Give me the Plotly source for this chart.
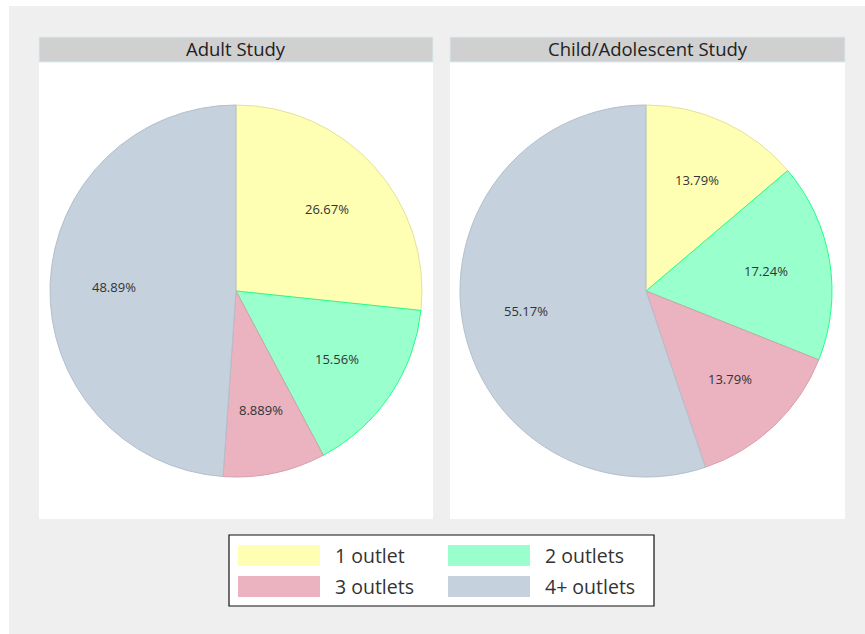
import math
import plotly.graph_objects as go

# Share of participants by number of outlets, per study
categories = ["1 outlet", "2 outlets", "3 outlets", "4+ outlets"]
adult_counts = [12, 7, 4, 22]
child_counts = [4, 5, 4, 16]
panel_titles = ["Adult Study", "Child/Adolescent Study"]

fill_colors = ["#FFFFB3", "#99FFCC", "#EBB2C0", "#C5D1DD"]
edge_colors = ["#E2E29A", "#22FF88", "#D7A0AE", "#B3C0CD"]

W, H = 865, 634
FONT = "Open Sans"


def px(x):
    return x / W


def py(y):
    return 1 - y / H


fig = go.Figure()

shapes = []
annotations = []

# Outer backdrop
shapes.append(dict(type="rect", xref="paper", yref="paper",
                   x0=px(9), x1=px(865), y0=py(634), y1=py(6),
                   fillcolor="#EFEFEF", line=dict(width=0), layer="below"))

panels = [
    dict(x0=39, x1=433, cx=236),
    dict(x0=450, x1=845, cx=646),
]
cy, R = 291, 186

for panel, title, counts in zip(panels, panel_titles, [adult_counts, child_counts]):
    # white plotting region
    shapes.append(dict(type="rect", xref="paper", yref="paper",
                       x0=px(panel["x0"]), x1=px(panel["x1"]),
                       y0=py(519), y1=py(62),
                       fillcolor="white", line=dict(width=0), layer="below"))
    # title strip
    shapes.append(dict(type="rect", xref="paper", yref="paper",
                       x0=px(panel["x0"]), x1=px(panel["x1"]),
                       y0=py(62), y1=py(37),
                       fillcolor="#D0D0D0", line=dict(color="#DCEAF2", width=1),
                       layer="below"))
    annotations.append(dict(xref="paper", yref="paper",
                            x=px((panel["x0"] + panel["x1"]) / 2), y=py(48.5),
                            text=title, showarrow=False,
                            xanchor="center", yanchor="middle",
                            font=dict(family=FONT, size=18.5, color="#222")))

    cx = panel["cx"]
    fig.add_trace(go.Pie(
        labels=categories, values=counts, sort=False,
        direction="clockwise", rotation=0,
        marker=dict(colors=fill_colors, line=dict(color=edge_colors, width=1)),
        textinfo="none", hoverinfo="skip", showlegend=False,
        domain=dict(x=[px(cx - R), px(cx + R)], y=[py(cy + R), py(cy - R)]),
    ))

    # slice percentage labels placed along each slice's mid-angle
    total = sum(counts)
    cum = 0.0
    for c in counts:
        frac = c / total
        mid = (cum + frac / 2) * 2 * math.pi
        cum += frac
        r = 0.655 * R
        lx = cx + r * math.sin(mid)
        ly = cy - r * math.cos(mid)
        pct = 100 * frac
        annotations.append(dict(xref="paper", yref="paper", x=px(lx), y=py(ly),
                                text=f"{pct:.4g}%", showarrow=False,
                                xanchor="center", yanchor="middle",
                                font=dict(family=FONT, size=13, color="#333")))

# Legend box
shapes.append(dict(type="rect", xref="paper", yref="paper",
                   x0=px(229), x1=px(654), y0=py(606), y1=py(535),
                   fillcolor="white", line=dict(color="#111", width=1.2),
                   layer="below"))
legend_slots = [(238, 545), (448, 545), (238, 576), (448, 576)]
for (sx, sy), name, col in zip(legend_slots, categories, fill_colors):
    shapes.append(dict(type="rect", xref="paper", yref="paper",
                       x0=px(sx), x1=px(sx + 82), y0=py(sy + 21), y1=py(sy),
                       fillcolor=col, line=dict(width=0)))
    annotations.append(dict(xref="paper", yref="paper",
                            x=px(sx + 95), y=py(sy + 10.5),
                            text=name, showarrow=False,
                            xanchor="left", yanchor="middle",
                            font=dict(family=FONT, size=19.5, color="#333")))

fig.update_layout(
    width=W, height=H,
    margin=dict(l=0, r=0, t=0, b=0),
    paper_bgcolor="white", plot_bgcolor="white",
    shapes=shapes, annotations=annotations,
    showlegend=False,
)

fig.write_html("out.html")
